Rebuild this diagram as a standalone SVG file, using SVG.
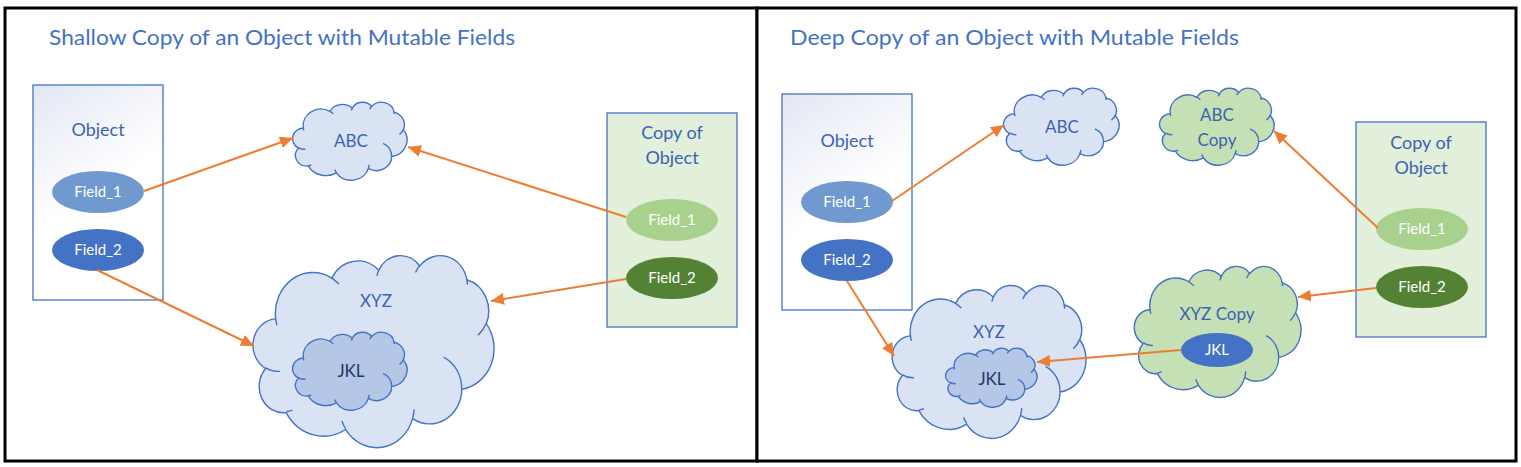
<svg xmlns="http://www.w3.org/2000/svg" xmlns:xlink="http://www.w3.org/1999/xlink" width="1521" height="467" viewBox="0 0 1521 467">
<style>
  text { font-family: Lato, "Open Sans", "Liberation Sans", sans-serif; text-anchor: middle; }
  .title { font-size: 22px; fill: #4472C4; text-anchor: start; }
  .lbl { font-size: 18px; fill: #3C63B0; }
  .cl { font-size: 17px; fill: #3C63B0; }
  .dark { font-size: 17px; fill: #1F3864; }
  .fld { font-size: 15px; fill: #FFFFFF; }
  .frame { fill: #FFFFFF; stroke: #000000; stroke-width: 3; }
  .obj { fill: url(#objGrad); stroke: #4472C4; stroke-width: 1.3; }
  .copy { fill: #E2EFDA; stroke: #4472C4; stroke-width: 1.3; }
  .cloudpath, .creasepath { vector-effect: non-scaling-stroke; }
  .c-blue { fill: #DAE3F3; stroke: #4472C4; stroke-width: 1.4; }
  .c-mid { fill: #B4C7E7; stroke: #4472C4; stroke-width: 1.4; }
  .c-green { fill: #C5E0B4; stroke: #4472C4; stroke-width: 1.4; }
  .crease { fill: none; stroke: #4472C4; stroke-width: 1.4; }
  .f1 { fill: #7099CF; }
  .f2 { fill: #4472C4; }
  .g1 { fill: #A9D18E; }
  .g2 { fill: #548235; }
  .arrow { stroke: #ED7D31; stroke-width: 2; fill: none; marker-end: url(#ah); }
</style>
<defs>
  <linearGradient id="objGrad" x1="0" y1="0" x2="0.4" y2="1">
    <stop offset="0" stop-color="#E2E7F4"/>
    <stop offset="0.6" stop-color="#FFFFFF"/>
    <stop offset="1" stop-color="#FFFFFF"/>
  </linearGradient>
  <marker id="ah" markerUnits="userSpaceOnUse" markerWidth="14" markerHeight="12" refX="13" refY="6" orient="auto">
    <path d="M0,0 L13,6 L0,12 Z" fill="#ED7D31"/>
  </marker>
  <path id="cloudShape" class="cloudpath" d="M 9.03 33.26 A 15.63 21.27 0 0 1 32.41 12.04 A 12.34 16.82 0 0 1 51.97 7.94 A 10.10 13.76 0 0 1 69.05 5.73 A 11.24 15.27 0 0 1 88.69 12.89 A 12.34 16.84 0 0 1 96.79 35.77 A 15.68 21.34 0 0 1 86.58 69.90 A 13.39 18.21 0 0 1 66.09 85.20 A 15.63 21.33 0 0 1 38.14 90.88 A 17.87 24.41 0 0 1 13.43 82.10 A 10.09 13.70 0 0 1 4.89 59.13 A 10.10 13.76 0 0 1 9.03 33.26 Z"/>
  <path id="cloudCrease" class="creasepath" d="M 10.86 60.59 A 10.06 13.76 0 0 1 5.00 58.75 M 16.04 80.78 A 10.09 13.70 0 0 1 13.47 81.67 M 38.14 90.49 A 15.63 21.33 0 0 1 36.60 86.46 M 66.73 80.44 A 15.63 21.33 0 0 1 66.11 84.87 M 79.00 53.13 A 13.39 18.21 0 0 1 86.53 69.65 M 96.75 35.54 A 12.34 16.84 0 0 1 93.40 41.73 M 88.71 12.56 A 11.24 15.27 0 0 1 88.89 15.49 M 67.31 9.15 A 11.24 15.27 0 0 1 69.03 5.42 M 51.25 10.93 A 10.10 13.76 0 0 1 52.08 7.71 M 32.41 12.02 A 15.63 21.27 0 0 1 35.42 15.14 M 9.55 36.55 A 15.63 21.27 0 0 1 9.03 33.27"/>
</defs>

<rect width="1521" height="467" fill="#FFFFFF"/>

<!-- panels -->
<g id="panel-shallow">
  <rect class="frame" x="5" y="8" width="752" height="453"/>
  <text class="title" x="49" y="45" textLength="466" lengthAdjust="spacingAndGlyphs">Shallow Copy of an Object with Mutable Fields</text>
</g>
<g id="panel-deep">
  <rect class="frame" x="757" y="8" width="759" height="453"/>
  <text class="title" x="790" y="45" textLength="449" lengthAdjust="spacingAndGlyphs">Deep Copy of an Object with Mutable Fields</text>
</g>

<!-- LEFT: shallow copy -->
<g id="L-object">
  <rect class="obj" x="33" y="85" width="130" height="215"/>
  <text class="lbl" x="98" y="136">Object</text>
</g>
<g id="L-field1"><ellipse class="f1" cx="98" cy="192" rx="46" ry="21"/><text class="fld" x="98" y="197">Field_1</text></g>
<g id="L-field2"><ellipse class="f2" cx="98" cy="250" rx="46" ry="21"/><text class="fld" x="98" y="255">Field_2</text></g>

<g id="L-copy">
  <rect class="copy" x="607" y="113" width="130" height="214"/>
  <text class="lbl" x="672" y="139">Copy of</text>
  <text class="lbl" x="672" y="164">Object</text>
</g>
<g id="L-copy-field1"><ellipse class="g1" cx="672" cy="220" rx="46" ry="21"/><text class="fld" x="672" y="225">Field_1</text></g>
<g id="L-copy-field2"><ellipse class="g2" cx="672" cy="278" rx="46" ry="21"/><text class="fld" x="672" y="283">Field_2</text></g>

<g id="L-abc">
  <g transform="translate(293,102) scale(1.14,0.78)"><use xlink:href="#cloudShape" class="c-blue"/><use xlink:href="#cloudCrease" class="crease"/></g>
  <text class="cl" x="351" y="147">ABC</text>
</g>
<g id="L-xyz">
  <g transform="translate(254,255) scale(2.40,1.92)"><use xlink:href="#cloudShape" class="c-blue"/><use xlink:href="#cloudCrease" class="crease"/></g>
  <text class="cl" x="376" y="307">XYZ</text>
</g>
<g id="L-jkl">
  <g transform="translate(293,332) scale(1.14,0.78)"><use xlink:href="#cloudShape" class="c-mid"/><use xlink:href="#cloudCrease" class="crease"/></g>
  <text class="dark" x="351" y="377">JKL</text>
</g>

<!-- RIGHT: deep copy -->
<g id="R-object">
  <rect class="obj" x="782" y="94" width="130" height="216"/>
  <text class="lbl" x="847" y="147">Object</text>
</g>
<g id="R-field1"><ellipse class="f1" cx="847" cy="202" rx="46" ry="21"/><text class="fld" x="847" y="207">Field_1</text></g>
<g id="R-field2"><ellipse class="f2" cx="847" cy="260" rx="46" ry="21"/><text class="fld" x="847" y="265">Field_2</text></g>

<g id="R-copy">
  <rect class="copy" x="1356" y="122" width="130" height="215"/>
  <text class="lbl" x="1421" y="149">Copy of</text>
  <text class="lbl" x="1421" y="174">Object</text>
</g>
<g id="R-copy-field1"><ellipse class="g1" cx="1422" cy="229" rx="46" ry="21"/><text class="fld" x="1422" y="234">Field_1</text></g>
<g id="R-copy-field2"><ellipse class="g2" cx="1422" cy="287" rx="46" ry="21"/><text class="fld" x="1422" y="292">Field_2</text></g>

<g id="R-abc">
  <g transform="translate(1004,88) scale(1.15,0.77)"><use xlink:href="#cloudShape" class="c-blue"/><use xlink:href="#cloudCrease" class="crease"/></g>
  <text class="cl" x="1062" y="133">ABC</text>
</g>
<g id="R-abc-copy">
  <g transform="translate(1160,88) scale(1.14,0.77)"><use xlink:href="#cloudShape" class="c-green"/><use xlink:href="#cloudCrease" class="crease"/></g>
  <text class="cl" x="1217" y="121">ABC</text>
  <text class="cl" x="1217" y="146">Copy</text>
</g>
<g id="R-xyz">
  <g transform="translate(893,285) scale(1.93,1.53)"><use xlink:href="#cloudShape" class="c-blue"/><use xlink:href="#cloudCrease" class="crease"/></g>
  <text class="cl" x="989" y="338">XYZ</text>
</g>
<g id="R-jkl">
  <g transform="translate(946,348) scale(0.91,0.59)"><use xlink:href="#cloudShape" class="c-mid"/><use xlink:href="#cloudCrease" class="crease"/></g>
  <text class="dark" x="992" y="385">JKL</text>
</g>
<g id="R-xyz-copy">
  <g transform="translate(1135,266) scale(1.66,1.31)"><use xlink:href="#cloudShape" class="c-green"/><use xlink:href="#cloudCrease" class="crease"/></g>
  <text class="cl" x="1217" y="320">XYZ Copy</text>
</g>
<g id="R-jkl-ref"><ellipse class="f2" cx="1217" cy="350" rx="36" ry="17"/><text class="fld" x="1217" y="355">JKL</text></g>

<!-- connectors -->
<g id="connectors">
  <line class="arrow" x1="144" y1="191" x2="293" y2="138"/>
  <line class="arrow" x1="626" y1="217" x2="408" y2="147"/>
  <line class="arrow" x1="97" y1="270" x2="254" y2="346"/>
  <line class="arrow" x1="626" y1="279" x2="491" y2="301"/>
  <line class="arrow" x1="892" y1="201" x2="1004" y2="125"/>
  <line class="arrow" x1="1378" y1="228" x2="1274" y2="131"/>
  <line class="arrow" x1="847" y1="281" x2="894" y2="356"/>
  <line class="arrow" x1="1376" y1="288" x2="1298" y2="297"/>
  <line class="arrow" x1="1181" y1="350" x2="1037" y2="362"/>
</g>
</svg>
